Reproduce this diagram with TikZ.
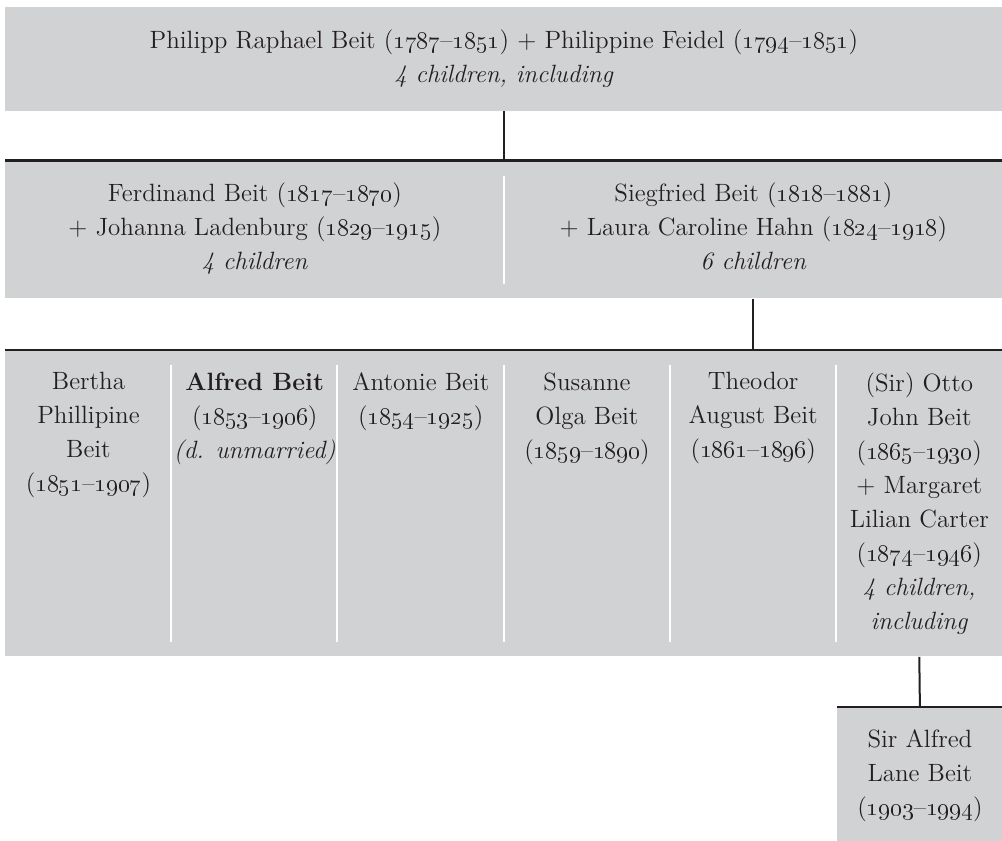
\documentclass[tikz,border=0pt]{standalone}
\usepackage{tikz}
\usetikzlibrary{positioning}
\usepackage{xcolor}
\definecolor{famgray}{HTML}{D1D2D4}
\definecolor{famink}{HTML}{231F20}
\newcommand{\yrs}[2]{(\oldstylenums{#1}--\oldstylenums{#2})}

\begin{document}
\begin{tikzpicture}[x=0.5pt, y=0.5pt,
    every node/.style={font=\fontsize{12.5}{17}\selectfont, text=famink},
    cell/.style={fill=famgray, inner sep=0pt, anchor=north west},
    person/.style={align=center, inner sep=0pt, execute at begin node=\strut},
    link/.style={line width=1pt, draw=famink},
    toprule/.style={line width=1.3pt, draw=famink},
    sep/.style={line width=1pt, draw=white}]

    \useasboundingbox (0,0) rectangle (1002,-841);

    % Parents
    \node[cell, minimum width=498.5pt, minimum height=51.75pt] (par) at (5,-7) {};
    \node[person, below=11.1pt of par.north] (partxt)
        {Philipp Raphael Beit \yrs{1787}{1851} + Philippine Feidel \yrs{1794}{1851}\\
         \textit{4 children, including}};

    % Sons
    \node[cell, minimum width=249.5pt, minimum height=68.75pt] (ferd) at (5,-160.5) {};
    \node[cell, minimum width=249pt, minimum height=68.75pt] (sieg) at (504,-160.5) {};
    \node[person, below=11.1pt of ferd.north] (ferdtxt)
        {Ferdinand Beit \yrs{1817}{1870}\\+ Johanna Ladenburg \yrs{1829}{1915}\\\textit{4 children}};
    \node[person, below=11.1pt of sieg.north] (siegtxt)
        {Siegfried Beit \yrs{1818}{1881}\\+ Laura Caroline Hahn \yrs{1824}{1918}\\\textit{6 children}};

    % Grandchildren
    \node[cell, minimum width=83.1pt, minimum height=153pt] (bertha) at (5,-350) {};
    \node[cell, minimum width=83.1pt, minimum height=153pt] (alfred) at (171.2,-350) {};
    \node[cell, minimum width=83.1pt, minimum height=153pt] (antonie) at (337.3,-350) {};
    \node[cell, minimum width=83.1pt, minimum height=153pt] (susanne) at (503.5,-350) {};
    \node[cell, minimum width=83.1pt, minimum height=153pt] (theodor) at (669.7,-350) {};
    \node[cell, minimum width=83.1pt, minimum height=153pt] (otto) at (835.8,-350) {};

    \node[person, below=11.1pt of bertha.north] {Bertha\\Phillipine\\Beit\\\yrs{1851}{1907}};
    \node[person, below=11.1pt of alfred.north] {\textbf{Alfred Beit}\\\yrs{1853}{1906}\\\textit{(d. unmarried)}};
    \node[person, below=11.1pt of antonie.north] {Antonie Beit\\\yrs{1854}{1925}};
    \node[person, below=11.1pt of susanne.north] {Susanne\\Olga Beit\\\yrs{1859}{1890}};
    \node[person, below=11.1pt of theodor.north] {Theodor\\August Beit\\\yrs{1861}{1896}};
    \node[person, below=11.1pt of otto.north]
        {(Sir) Otto\\John Beit\\\yrs{1865}{1930}\\+ Margaret\\Lilian Carter\\\yrs{1874}{1946}\\
         \textit{4 children,}\\\textit{including}};

    % Great-grandson
    \node[cell, minimum width=82.5pt, minimum height=67pt] (heir) at (837,-707) {};
    \node[person, below=11.1pt of heir.north] {Sir Alfred\\Lane Beit\\\yrs{1903}{1994}};

    % Lines of descent
    \draw[link] (par.south) -- (par.south |- ferd.north);
    \draw[toprule] (ferd.north west) -- (sieg.north east);
    \draw[sep] ([yshift=-7.5pt]sieg.north west) -- ([yshift=7.5pt]sieg.south west);

    \draw[link] (sieg.south) -- (sieg.south |- otto.north);
    \draw[toprule] (bertha.north west) -- (otto.north east);
    \draw[sep] ([yshift=-7.5pt]alfred.north west) -- ([yshift=7.5pt]alfred.south west);
    \draw[sep] ([yshift=-7.5pt]antonie.north west) -- ([yshift=7.5pt]antonie.south west);
    \draw[sep] ([yshift=-7.5pt]susanne.north west) -- ([yshift=7.5pt]susanne.south west);
    \draw[sep] ([yshift=-7.5pt]theodor.north west) -- ([yshift=7.5pt]theodor.south west);
    \draw[sep] ([yshift=-7.5pt]otto.north west) -- ([yshift=7.5pt]otto.south west);

    \draw[link] (otto.south) -- (heir.north);
    \draw[toprule] (heir.north west) -- (heir.north east);
\end{tikzpicture}
\end{document}
